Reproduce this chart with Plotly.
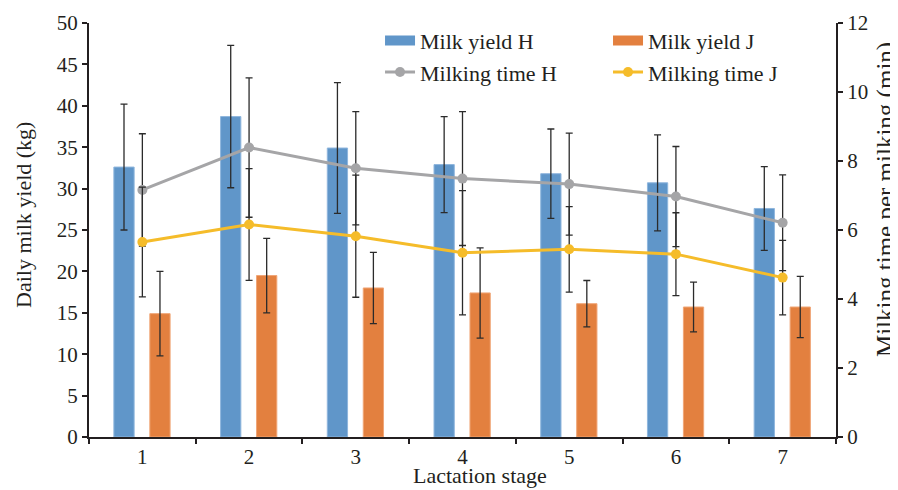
import plotly.graph_objects as go

stages = ["1", "2", "3", "4", "5", "6", "7"]
milk_H = [32.6, 38.7, 34.9, 32.9, 31.8, 30.7, 27.6]
milk_H_err = [7.6, 8.6, 7.9, 5.8, 5.4, 5.8, 5.05]
milk_J = [14.9, 19.5, 18.0, 17.4, 16.1, 15.7, 15.7]
milk_J_err = [5.1, 4.5, 4.3, 5.45, 2.8, 3.0, 3.7]
time_H = [7.16, 8.39, 7.79, 7.49, 7.33, 6.97, 6.21]
time_H_err = [1.63, 2.02, 1.64, 1.94, 1.48, 1.45, 1.39]
time_J = [5.65, 6.16, 5.82, 5.34, 5.44, 5.30, 4.62]
time_J_err = [1.59, 1.62, 1.77, 1.80, 1.24, 1.20, 1.08]

BLUE = "#6096C9"
ORANGE = "#E3803F"
GRAY = "#A5A5A7"
YELLOW = "#F5BC2A"
INK = "#231F20"
FONT = "Liberation Serif, serif"

err_style = dict(type="data", color="#2b2b2b", thickness=1.3, width=3.5)

fig = go.Figure()
fig.add_trace(go.Bar(x=stages, y=milk_H, name="Milk yield H", marker=dict(color=BLUE, line=dict(color="#8FB6DD", width=1)),
                     offset=-0.267, width=0.19, error_y=dict(array=milk_H_err, **err_style), showlegend=False))
fig.add_trace(go.Bar(x=stages, y=milk_J, name="Milk yield J", marker=dict(color=ORANGE, line=dict(color="#F0A677", width=1)),
                     offset=0.07, width=0.19, error_y=dict(array=milk_J_err, **err_style), showlegend=False))
fig.add_trace(go.Scatter(x=stages, y=time_H, name="Milking time H", yaxis="y2", mode="lines+markers",
                         line=dict(color=GRAY, width=3), marker=dict(color=GRAY, size=10),
                         error_y=dict(array=time_H_err, **err_style), legend="legend", legendrank=2))
fig.add_trace(go.Scatter(x=stages, y=time_J, name="Milking time J", yaxis="y2", mode="lines+markers",
                         line=dict(color=YELLOW, width=3), marker=dict(color=YELLOW, size=10),
                         error_y=dict(array=time_J_err, **err_style), legend="legend2", legendrank=2))
# legend swatches for bars
fig.add_trace(go.Scatter(x=[None], y=[None], name="Milk yield H", mode="lines",
                         line=dict(color=BLUE, width=12), legend="legend", legendrank=1))
fig.add_trace(go.Scatter(x=[None], y=[None], name="Milk yield J", mode="lines",
                         line=dict(color=ORANGE, width=12), legend="legend2", legendrank=1))

axis_common = dict(showline=True, linecolor=INK, linewidth=2, ticks="outside", ticklen=5,
                   tickcolor=INK, tickwidth=1.5, showgrid=False, zeroline=False, automargin=False,
                   tickfont=dict(family=FONT, size=21, color=INK))

leg_common = dict(font=dict(family=FONT, size=22, color=INK), bgcolor="rgba(0,0,0,0)",
                  orientation="v", yanchor="top", xanchor="left", tracegroupgap=0,
                  itemsizing="trace", traceorder="normal")

# the page adds an 8px body margin, so the figure is 8px smaller and margins compensate
fig.update_layout(
    width=890, height=482,
    margin=dict(l=81, r=62, t=12, b=53),
    paper_bgcolor="white", plot_bgcolor="white",
    barmode="overlay",
    font=dict(family=FONT, color=INK),
    xaxis=dict(type="category", range=[-0.5, 6.5], tickson="boundaries", **axis_common),
    yaxis=dict(range=[0, 50], dtick=5, **axis_common),
    yaxis2=dict(range=[0, 12], dtick=2, overlaying="y", side="right", **axis_common),
    legend=dict(x=0.3896, y=1.008, **leg_common),
    legend2=dict(x=0.6948, y=1.008, **leg_common),
    annotations=[
        dict(text="Lactation stage", xref="paper", yref="paper", x=0.523, y=-0.127,
             xanchor="center", yanchor="bottom", showarrow=False,
             font=dict(family=FONT, size=22, color=INK)),
        dict(text="Daily milk yield (kg)", xref="paper", yref="paper", x=-0.088, y=0.537,
             xanchor="center", yanchor="middle", textangle=-90, showarrow=False,
             font=dict(family=FONT, size=22, color=INK)),
        dict(text="Milking time per milking (min)", xref="paper", yref="paper", x=1.066, y=0.573,
             xanchor="center", yanchor="middle", textangle=-90, showarrow=False,
             font=dict(family=FONT, size=25, color=INK)),
    ],
)

fig.write_html("out.html")
